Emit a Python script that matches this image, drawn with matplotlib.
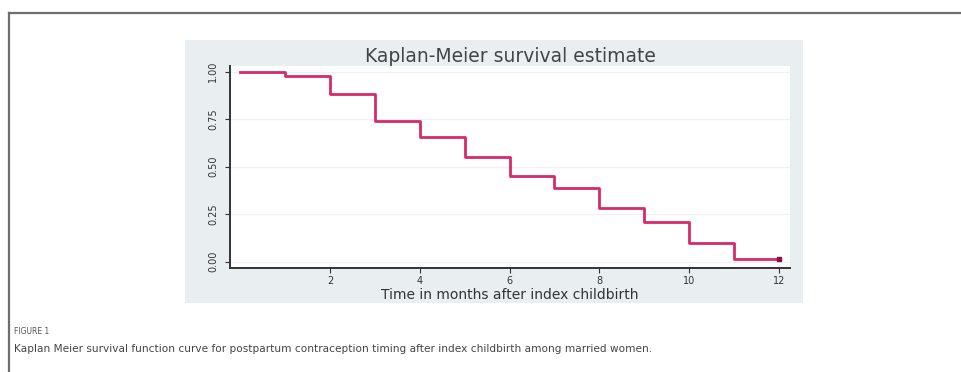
import numpy as np
import matplotlib
matplotlib.use("Agg")
import matplotlib.pyplot as plt
from matplotlib.patches import Rectangle
from matplotlib.lines import Line2D

# Kaplan-Meier estimate (month, survival)
months = [0, 1, 2, 3, 4, 5, 6, 7, 8, 9, 10, 11]
survival = [1.0, 0.977, 0.881, 0.741, 0.658, 0.553, 0.451, 0.386, 0.281, 0.211, 0.100, 0.013]
end_month = 12

x_ticks = [2, 4, 6, 8, 10, 12]
y_ticks = [0.0, 0.25, 0.5, 0.75, 1.0]
y_tick_labels = ["0.00", "0.25", "0.50", "0.75", "1.00"]

title = "Kaplan-Meier survival estimate"
x_label = "Time in months after index childbirth"
fig_label = "FIGURE 1"
caption = ("Kaplan Meier survival function curve for postpartum contraception timing "
           "after index childbirth among married women.")

W, H = 961, 372
line_color = "#d62a6c"
panel_color = "#e9eef1"


def px(x, y):
    # pixel coords (from top-left) -> figure fraction
    return x / W, 1 - y / H


def main():
    fig = plt.figure(figsize=(W / 100, H / 100), dpi=100)
    fig.patch.set_facecolor("white")

    # outer page frame (top + left edges visible)
    x0, y0 = px(9, 13)
    fig.add_artist(Line2D([x0, 1], [y0, y0], transform=fig.transFigure, color="#6e6e6e", lw=1.6))
    fig.add_artist(Line2D([x0, x0], [0, y0], transform=fig.transFigure, color="#6e6e6e", lw=1.6))

    # Stata graph region
    gx, gy = px(185, 303)
    gw, gh = (803 - 185) / W, (303 - 40) / H
    fig.add_artist(Rectangle((gx, gy), gw, gh, transform=fig.transFigure,
                             facecolor=panel_color, edgecolor="none", zorder=0))

    left, top = px(230, 66)
    right, bottom = px(790, 268)
    ax = fig.add_axes([left, bottom, right - left, top - bottom])
    ax.set_facecolor("white")

    xs = months + [end_month]
    ys = survival + [survival[-1]]
    ax.step(xs, ys, where="post", color=line_color, lw=2.0, zorder=3)
    ax.plot([end_month], [survival[-1]], marker="s", ms=3, color="#8a1040", zorder=4)

    ax.set_xlim(-0.23, 12.25)
    ax.set_ylim(-0.033, 1.03)
    ax.set_xticks(x_ticks)
    ax.set_yticks(y_ticks)
    ax.set_yticklabels(y_tick_labels, rotation=90, va="center")
    for y in y_ticks:
        ax.axhline(y, color="#eef2f4", lw=1.0, zorder=1)

    for s in ["top", "right"]:
        ax.spines[s].set_visible(False)
    for s in ["left", "bottom"]:
        ax.spines[s].set_color("#333333")
        ax.spines[s].set_linewidth(1.4)

    ax.tick_params(axis="both", labelsize=7, colors="#333333", length=3.5, width=0.8)
    ax.tick_params(axis="y", pad=5)
    ax.tick_params(axis="x", pad=2.5)

    ax.set_xlabel(x_label, fontsize=10, color="#333333", labelpad=1)
    ax.set_title(title, fontsize=13.5, color="#444444", pad=3)

    fig.text(14 / W, 1 - 332 / H, fig_label, fontsize=5.5, color="#555555", va="center")
    fig.text(14 / W, 1 - 349 / H, caption, fontsize=7.6, color="#444444", va="center")

    fig.savefig("out.png", dpi=100)


if __name__ == "__main__":
    main()
